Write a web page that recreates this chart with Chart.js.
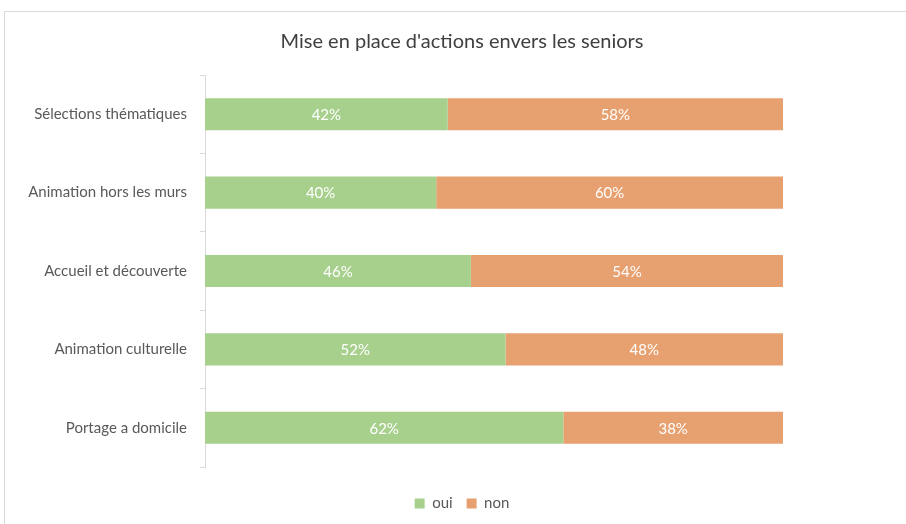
<!DOCTYPE html>
<html>
<head>
<meta charset="utf-8">
<script src="https://cdn.jsdelivr.net/npm/chart.js@4"></script>
<style>
html,body{margin:0;padding:0;background:#fff;overflow:hidden;}
#wrap{position:relative;width:906px;height:524px;}
#frame{position:absolute;left:4px;top:11px;width:920px;height:530px;border:1px solid #d9d9d9;box-sizing:border-box;}
canvas{position:absolute;left:0;top:0;}
</style>
</head>
<body>
<div id="wrap">
<div id="frame"></div>
<canvas id="c" width="906" height="524"></canvas>
</div>
<script>
const categories = ["Sélections thématiques", "Animation hors les murs", "Accueil et découverte", "Animation culturelle", "Portage a domicile"];
const oui = [42, 40, 46, 52, 62];
const non = [58, 60, 54, 48, 38];
const seriesNames = ["oui", "non"];
const titleText = "Mise en place d'actions envers les seniors";

const FONT = "Lato, 'Open Sans', sans-serif";

const barLabels = {
  id: 'barLabels',
  afterDatasetsDraw(chart) {
    const ctx = chart.ctx;
    ctx.save();
    ctx.font = "15px " + FONT;
    ctx.fillStyle = "#ffffff";
    ctx.textAlign = "center";
    ctx.textBaseline = "middle";
    chart.data.datasets.forEach((ds, di) => {
      const meta = chart.getDatasetMeta(di);
      meta.data.forEach((el, i) => {
        const p = el.getProps(['x', 'base', 'y'], true);
        const cx = (p.x + p.base) / 2;
        ctx.fillText(ds.data[i] + "%", cx, p.y + 1);
      });
    });
    ctx.restore();
  }
};

const hiddenAxis = {
  display: true,
  grid: { display: false, drawTicks: false },
  border: { display: false },
  ticks: { display: false }
};

new Chart(document.getElementById('c'), {
  type: 'bar',
  data: {
    labels: categories,
    datasets: [
      { label: seriesNames[0], data: oui, backgroundColor: '#a7d08d', borderWidth: 0 },
      { label: seriesNames[1], data: non, backgroundColor: '#e7a06f', borderWidth: 0 }
    ]
  },
  options: {
    indexAxis: 'y',
    responsive: false,
    animation: false,
    layout: { padding: { top: 30, right: 0, bottom: 3, left: 18 } },
    barPercentage: 0.41,
    categoryPercentage: 1,
    scales: {
      x: { stacked: true, min: 0, max: 100, display: false },
      xPad: Object.assign({ type: 'linear', axis: 'x', position: 'bottom', afterFit(s) { s.height = 15; } }, hiddenAxis),
      y: {
        stacked: true,
        offset: true,
        border: { display: true, color: '#d9d9d9', width: 1 },
        grid: { offset: true, drawOnChartArea: false, drawTicks: true, tickLength: 5, color: '#d9d9d9' },
        ticks: { color: '#595959', font: { family: FONT, size: 15 }, padding: 13 },
        afterFit(scale) { scale.width = 187; }
      },
      yPad: Object.assign({ type: 'linear', axis: 'y', position: 'right', afterFit(s) { s.width = 123; } }, hiddenAxis)
    },
    plugins: {
      title: {
        display: true,
        text: titleText,
        color: '#404040',
        font: { family: FONT, size: 20, weight: 'normal' },
        padding: { top: 0, bottom: 21 }
      },
      legend: {
        position: 'bottom',
        labels: {
          color: '#595959',
          font: { family: FONT, size: 15 },
          boxWidth: 10,
          boxHeight: 10,
          padding: 14
        }
      },
      tooltip: { enabled: false }
    }
  },
  plugins: [barLabels]
});
</script>
</body>
</html>
